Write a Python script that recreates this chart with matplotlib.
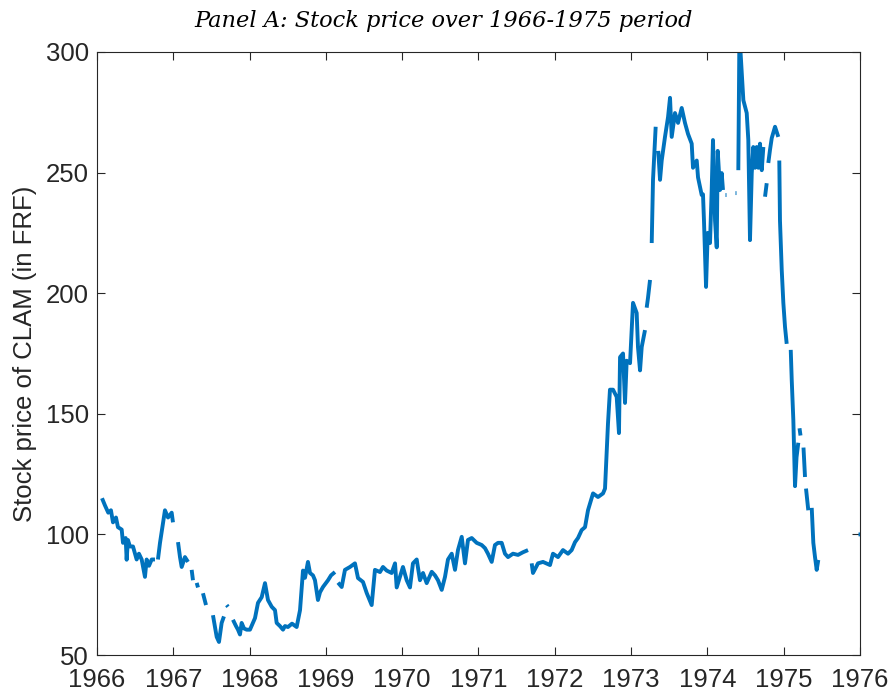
import numpy as np
import matplotlib
matplotlib.use("Agg")
import matplotlib.pyplot as plt

nan = np.nan

# fractional year, price (nan = gap in series)
dates = [
    1966.066, 1966.105, 1966.148, 1966.183, 1966.210, 1966.249, 1966.275, 1966.324, 1966.341,
    1966.376, 1966.389, 1966.406, 1966.432, 1966.472, 1966.520, 1966.550, 1966.586, 1966.629,
    1966.651, 1966.682, 1966.717, 1966.760, 1966.780, 1966.799, 1966.826, 1966.865, 1966.891,
    1966.931, 1966.979, 1966.996, 1967.030,
    1967.062, 1967.088, 1967.110, 1967.153, 1967.193, 1967.220, 1967.241, 1967.258, 1967.280,
    1967.307, 1967.324, 1967.360, 1967.389, 1967.429, 1967.470, 1967.520, 1967.569, 1967.599,
    1967.634, 1967.664, 1967.680, 1967.700, 1967.717, 1967.750, 1967.782, 1967.822, 1967.848,
    1967.874, 1967.896, 1967.927, 1967.962, 1968.005, 1968.071, 1968.110, 1968.159, 1968.202,
    1968.241, 1968.290, 1968.333, 1968.355, 1968.398, 1968.438, 1968.464, 1968.503, 1968.556,
    1968.617, 1968.661, 1968.700, 1968.726, 1968.765, 1968.792, 1968.831, 1968.857, 1968.896,
    1968.923, 1968.962, 1969.028, 1969.067, 1969.119, 1969.140, 1969.159, 1969.207, 1969.250,
    1969.316, 1969.381, 1969.421, 1969.486, 1969.535, 1969.600, 1969.643, 1969.709, 1969.748,
    1969.797, 1969.862, 1969.906, 1969.928, 1969.971, 1970.010, 1970.059, 1970.102, 1970.141,
    1970.190, 1970.233, 1970.273, 1970.321, 1970.387, 1970.430, 1970.469, 1970.518, 1970.561,
    1970.600, 1970.649, 1970.692, 1970.731, 1970.780, 1970.823, 1970.862, 1970.911, 1970.976,
    1971.042, 1971.085, 1971.124, 1971.173, 1971.216, 1971.256, 1971.304, 1971.347, 1971.387,
    1971.452, 1971.518, 1971.583, 1971.649, 1971.675, 1971.697, 1971.714, 1971.780, 1971.845,
    1971.937, 1971.976, 1972.042, 1972.107, 1972.173, 1972.221, 1972.265, 1972.304, 1972.352,
    1972.396, 1972.435, 1972.501, 1972.566, 1972.632, 1972.658, 1972.697, 1972.723, 1972.763,
    1972.811, 1972.841, 1972.855, 1972.894, 1972.920, 1972.942, 1972.986, 1973.025, 1973.073,
    1973.090, 1973.117, 1973.139, 1973.182, 1973.193, 1973.204, 1973.221, 1973.248, 1973.260,
    1973.270, 1973.287, 1973.322, 1973.340, 1973.356, 1973.379, 1973.401, 1973.444, 1973.484,
    1973.510, 1973.532, 1973.575, 1973.615, 1973.663, 1973.706, 1973.746, 1973.794, 1973.811,
    1973.860, 1973.877, 1973.925, 1973.942, 1973.955, 1973.982, 1974.004, 1974.034, 1974.056,
    1974.073, 1974.100, 1974.122, 1974.135, 1974.165, 1974.187, 1974.204, 1974.220, 1974.237,
    1974.250, 1974.300, 1974.368, 1974.381, 1974.393, 1974.405, 1974.418, 1974.434, 1974.450,
    1974.471, 1974.515, 1974.536, 1974.558, 1974.581, 1974.601, 1974.624, 1974.646, 1974.667,
    1974.689, 1974.712, 1974.733, 1974.745, 1974.755, 1974.777, 1974.788, 1974.798, 1974.820,
    1974.843, 1974.886, 1974.929, 1974.936, 1974.942, 1974.951, 1974.974, 1974.995, 1975.017,
    1975.039, 1975.065, 1975.092, 1975.105, 1975.126, 1975.148, 1975.168, 1975.191, 1975.200,
    1975.207, 1975.220, 1975.240, 1975.259, 1975.279, 1975.286, 1975.292, 1975.322, 1975.345,
    1975.367, 1975.388, 1975.410, 1975.432, 1975.453, 1975.700, 1975.980, 1976.000,
]
prices = [
    115.0, 112.0, 109.0, 110.0, 105.0, 107.0, 103.0, 102.0, 96.5,
    98.5, 89.5, 97.7, 95.0, 95.0, 89.6, 92.0, 89.6, 82.4,
    89.6, 87.0, 89.6, 89.6, nan, 89.6, 96.5, 104.7, 110.0,
    107.0, 109.0, 105.0, nan,
    96.8, 90.6, 86.5, 90.6, 88.6, nan, 85.3, 81.0, nan,
    79.9, 78.0, nan, 75.6, 70.7, nan, 66.5, 57.5, 55.4,
    63.3, 66.0, nan, 70.7, 70.0, nan, 64.6, 62.0, 60.5,
    58.5, 63.3, 61.0, 60.5, 60.5, 65.3, 71.6, 74.0, 79.8,
    72.8, 70.0, 68.6, 63.3, 62.0, 60.5, 62.0, 61.6, 63.0,
    61.6, 68.6, 85.0, 82.0, 88.6, 84.0, 83.0, 81.0, 72.8,
    76.0, 78.2, 81.0, 83.0, 84.4, nan, 80.0, 78.2, 85.3,
    86.5, 88.0, 81.9, 80.3, 75.7, 70.7, 85.3, 84.4, 86.5,
    85.0, 84.0, 88.0, 78.0, 82.4, 86.5, 81.0, 78.0, 88.0,
    89.6, 81.0, 84.0, 79.8, 84.5, 83.0, 81.0, 77.0, 82.4,
    89.6, 92.0, 85.3, 93.5, 99.0, 88.0, 97.7, 98.5, 96.5,
    95.6, 94.3, 92.0, 88.6, 95.6, 96.5, 96.5, 92.0, 90.6,
    92.0, 91.5, 92.6, 93.5, nan, 88.0, 84.0, 88.0, 88.6,
    87.3, 92.0, 90.6, 93.5, 92.0, 93.5, 96.8, 98.5, 101.8,
    103.0, 110.0, 117.0, 115.5, 117.0, 119.0, 146.0, 160.0, 160.0,
    157.0, 142.0, 173.5, 175.0, 154.5, 172.0, 171.0, 196.0, 191.8,
    177.7, 168.0, 177.7, 184.7, nan, 194.0, 198.0, 205.5, nan,
    220.8, 247.0, 269.0, nan, 259.0, 247.0, 255.0, 264.8, 273.0,
    281.0, 264.8, 274.7, 270.6, 276.8, 270.6, 266.0, 262.0, 252.0,
    255.0, 248.0, 240.7, 241.0, 230.0, 202.6, 225.0, 220.8, 242.8,
    263.5, 230.0, 219.0, 259.0, 242.8, 249.8, 242.8, nan, 240.7,
    240.7, nan, 241.5, 241.5, nan, 251.0, 302.0, 300.0, 291.0,
    280.0, 274.7, 263.5, 222.0, 249.8, 260.6, 252.0, 260.6, 252.0,
    262.0, 251.0, 260.6, nan, 240.0, 245.6, nan, 254.0, 259.4,
    264.3, 269.0, 264.8, nan, 255.0, 230.0, 209.6, 196.0, 186.0,
    179.0, nan, 176.5, 164.0, 147.4, 120.0, 132.0, 138.0, nan,
    144.0, 141.0, nan, 136.0, 123.8, nan, 119.0, 110.0, nan,
    111.0, 96.5, 90.6, 85.3, 89.4, nan, 100.0, 100.0,
]

x_ticks = list(range(1966, 1977))
y_ticks = [50, 100, 150, 200, 250, 300]
title = "Panel A: Stock price over 1966-1975 period"
ylabel = "Stock price of CLAM (in FRF)"

plt.rcParams["font.family"] = ["Liberation Sans", "DejaVu Sans"]

fig = plt.figure(figsize=(8.88, 6.96), dpi=100)
ax = fig.add_axes([0.1092, 0.0589, 0.8593, 0.8664])

ax.plot(dates, prices, color="#0072BD", lw=2.8, solid_capstyle="butt")

ax.set_xlim(1966, 1976)
ax.set_ylim(50, 300)
ax.set_xticks(x_ticks)
ax.set_yticks(y_ticks)
ax.tick_params(direction="in", length=6, width=0.8, top=True, right=True,
               labelsize=18.5, colors="#262626")
ax.tick_params(axis="y", pad=6)
ax.tick_params(axis="x", pad=9)
for s in ax.spines.values():
    s.set_color("#262626")
    s.set_linewidth(0.8)

ax.set_ylabel(ylabel, fontsize=18.5, color="#262626", labelpad=6)

fig.text(0.5, 0.970, title, ha="center", va="center", fontsize=16.2,
         color="#000000", family="DejaVu Serif", style="italic")

fig.savefig("out.png", dpi=100)
